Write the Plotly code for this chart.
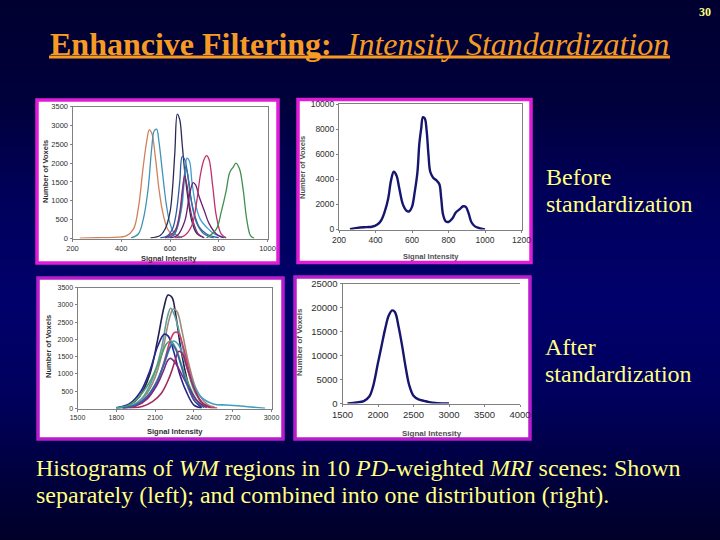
#!/usr/bin/env python3
# coding=utf-8

import plotly.graph_objects as go

W, H = 720, 540

# --- top left: separate histograms before standardization
before_names = ["orange", "teal", "black", "blue", "cyan", "steel", "wine", "purple", "pink", "green"]
before_x = [
	[230, 300, 370, 420, 450, 470, 490, 505, 515, 525, 540, 555, 570, 590, 610, 640],
	[440, 470, 490, 510, 525, 535, 545, 555, 570, 585, 600, 620, 650],
	[520, 560, 580, 600, 610, 620, 630, 640, 650, 660, 675, 690, 710, 740],
	[560, 590, 610, 625, 640, 650, 660, 670, 685, 700, 720, 750, 800],
	[580, 610, 630, 650, 660, 670, 680, 690, 705, 725, 750, 780, 830],
	[590, 620, 640, 655, 665, 675, 690, 710, 740, 780],
	[580, 620, 640, 650, 660, 670, 680, 695, 715, 740],
	[600, 630, 660, 680, 695, 705, 720, 740, 760, 790, 820],
	[620, 660, 690, 710, 725, 740, 750, 760, 775, 790, 810, 830],
	[750, 790, 810, 830, 845, 860, 870, 885, 900, 915, 930, 945],
]
before_y = [
	[10, 20, 30, 70, 250, 800, 1900, 2600, 2880, 2800, 2150, 1300, 700, 250, 90, 10],
	[20, 120, 500, 1300, 2400, 2850, 2900, 2550, 1700, 900, 400, 120, 20],
	[15, 80, 250, 700, 1300, 2300, 3300, 3150, 2500, 1800, 1000, 450, 130, 20],
	[15, 70, 250, 650, 1500, 2170, 2100, 1800, 1100, 650, 300, 120, 20],
	[15, 80, 300, 900, 1700, 2130, 2050, 1500, 900, 500, 300, 130, 20],
	[10, 130, 600, 1400, 1900, 1600, 900, 400, 120, 15],
	[10, 200, 700, 1250, 1650, 1400, 900, 450, 130, 15],
	[15, 80, 450, 1150, 1480, 1420, 1100, 750, 400, 120, 15],
	[15, 80, 350, 1000, 1700, 2100, 2200, 2100, 1400, 600, 120, 15],
	[15, 250, 700, 1250, 1750, 1900, 2000, 1850, 1300, 500, 80, 5],
]
before_colors = ["#d0805a", "#3f93b5", "#2a2a55", "#2f5a9e", "#3f9fd0", "#3a6f9f", "#8a2a70", "#6a1f70", "#c0306f", "#3f8f4f"]

# --- top right: combined histogram before standardization
combined_before_x = [260, 300, 350, 380, 410, 430, 450, 470, 485, 500, 515, 530, 550, 570, 585, 600, 615, 630, 640, 650, 660, 670, 680, 690, 700, 715, 735, 750, 760, 770, 785, 800, 820, 840, 860, 880, 895, 910, 925, 945, 975, 1000]
combined_before_y = [20, 130, 190, 220, 400, 700, 1400, 2500, 3900, 4600, 4300, 3300, 2000, 1500, 1450, 1800, 3000, 4600, 6800, 8000, 8950, 8850, 7900, 6000, 4600, 4150, 3900, 3600, 2500, 1200, 650, 600, 850, 1350, 1600, 1850, 1800, 1300, 600, 250, 80, 0]

# --- bottom left: separate histograms after standardization
after_x = [
	[1800, 1900, 1980, 2060, 2120, 2170, 2200, 2230, 2260, 2300, 2350, 2400, 2460],
	[1800, 1920, 2020, 2100, 2160, 2210, 2240, 2270, 2310, 2360, 2420, 2500, 2560],
	[1800, 1920, 2010, 2090, 2150, 2195, 2220, 2250, 2300, 2350, 2410, 2480, 2540],
	[1800, 1900, 1990, 2060, 2120, 2170, 2200, 2240, 2290, 2340, 2400, 2460],
	[1850, 1950, 2040, 2110, 2170, 2220, 2250, 2280, 2320, 2370, 2430, 2500, 2580],
	[1800, 1900, 1990, 2070, 2140, 2190, 2220, 2260, 2310, 2360, 2420, 2490],
	[1800, 1920, 2020, 2100, 2170, 2220, 2240, 2280, 2330, 2390, 2450, 2550, 2650, 2800, 2950],
	[1850, 1950, 2040, 2110, 2160, 2200, 2220, 2260, 2310, 2370, 2430, 2500],
	[1900, 2000, 2080, 2150, 2210, 2260, 2280, 2310, 2350, 2400, 2460, 2530],
	[1850, 1950, 2040, 2110, 2170, 2210, 2230, 2260, 2300, 2350, 2410, 2480],
]
after_y = [
	[20, 100, 350, 1000, 2000, 2950, 3280, 3220, 2700, 1700, 800, 250, 30],
	[15, 90, 350, 900, 1700, 2600, 2880, 2800, 2200, 1300, 550, 130, 40],
	[15, 90, 350, 950, 1750, 2650, 2900, 2700, 2000, 1150, 450, 110, 30],
	[20, 130, 500, 1100, 1800, 2150, 2100, 1700, 1000, 500, 100, 15],
	[15, 70, 280, 700, 1350, 2000, 2200, 2180, 1750, 1000, 350, 60, 15],
	[15, 100, 400, 850, 1450, 1880, 1950, 1750, 1200, 700, 250, 50],
	[10, 70, 280, 700, 1300, 1800, 1950, 1850, 1350, 750, 350, 130, 100, 60, 5],
	[10, 80, 300, 650, 1050, 1400, 1450, 1300, 950, 550, 200, 30],
	[15, 60, 200, 450, 900, 1450, 1650, 1600, 1150, 600, 180, 30],
	[15, 100, 350, 750, 1300, 1750, 1850, 1700, 1250, 650, 200, 30],
]
after_colors = ["#20204f", "#a08a78", "#5f9f9f", "#26268a", "#d03a6a", "#4f9f6f", "#3f9fc0", "#7a2a80", "#a02a60", "#3a5fa5"]

# --- bottom right: combined histogram after standardization
combined_after_x = [1570, 1650, 1700, 1800, 1880, 1930, 2000, 2050, 2100, 2150, 2200, 2240, 2290, 2340, 2390, 2440, 2500, 2570, 2650, 2720, 2800, 2900, 3000]
combined_after_y = [20, 100, 200, 500, 1500, 3500, 8500, 12000, 15500, 18300, 19400, 19000, 16000, 12000, 7500, 3800, 1600, 850, 550, 300, 100, 10, 0]

# slide background, dark at the edges and brighter lower down the middle
bg_rows = [0, 100, 200, 300, 400, 480, 540]
bg_blue = [48, 60, 92, 108, 92, 60, 40]

ORANGE = "#f59a23"
YELLOW = "#ffff80"
SERIF = "Liberation Serif"
SANS = "Liberation Sans"


def px(x):
	return x / W


def py(y):
	return 1 - y / H


def blue_at(y):
	for i in range(len(bg_rows) - 1):
		if y <= bg_rows[i + 1]:
			t = (y - bg_rows[i]) / (bg_rows[i + 1] - bg_rows[i])
			return int(bg_blue[i] + t * (bg_blue[i + 1] - bg_blue[i]))
	return bg_blue[-1]


fig = go.Figure()
shapes = []
annotations = []

for y in range(0, H, 3):
	shapes.append(dict(type="rect", xref="paper", yref="paper", x0=0, x1=1, y0=py(y + 3), y1=py(y),
		fillcolor="rgb(0,0,%d)" % blue_at(y), line_width=0, layer="below"))


def text(x, y, s, size, color, family=SERIF, anchor="left", angle=0):
	annotations.append(dict(xref="paper", yref="paper", x=px(x), y=py(y), text=s, showarrow=False,
		xanchor=anchor, yanchor="middle", align="left", textangle=angle,
		font=dict(family=family, size=size, color=color)))


# frame and plot box per panel, in pixels of the slide
panels = [
	dict(frame=(37, 278, 100, 263), box=(72.5, 267.5, 106.5, 238.5), xr=[200, 1000], xd=200, yr=[0, 3500], yd=500, size=7.5, border="#e01cd8", right=True),
	dict(frame=(298, 531, 99.5, 262.5), box=(339, 521.5, 104, 229.5), xr=[200, 1200], xd=200, yr=[0, 10000], yd=2000, size=8.5, border="#e01cd8", right=True),
	dict(frame=(38, 283, 278, 439), box=(77.5, 271.5, 287.5, 408.5), xr=[1500, 3000], xd=300, yr=[0, 3500], yd=500, size=7, border="#b81ccc", right=True),
	dict(frame=(295, 530, 277, 439), box=(342.5, 520, 283.5, 403.5), xr=[1500, 4000], xd=500, yr=[0, 25000], yd=5000, size=9.5, border="#b81ccc", right=False),
]

layout_axes = {}
for n, p in enumerate(panels, start=1):
	x0, x1, y0, y1 = p["frame"]
	shapes.append(dict(type="rect", xref="paper", yref="paper", x0=px(x0), x1=px(x1), y0=py(y1), y1=py(y0),
		fillcolor="white", line=dict(color=p["border"], width=3.5), layer="below"))
	bx0, bx1, by0, by1 = p["box"]
	suffix = "" if n == 1 else str(n)
	axis_style = dict(showgrid=False, zeroline=False, showline=True, linecolor="#808080", linewidth=1,
		ticks="outside", ticklen=2, tickcolor="#808080", tickformat="d", automargin=False,
		tickfont=dict(family=SANS, size=p["size"], color="#2e2e2e"))
	layout_axes["xaxis" + suffix] = dict(domain=[px(bx0), px(bx1)], range=p["xr"], dtick=p["xd"], tick0=p["xr"][0], anchor="y" + suffix, mirror=True, **axis_style)
	layout_axes["yaxis" + suffix] = dict(domain=[py(by1), py(by0)], range=p["yr"], dtick=p["yd"], tick0=0, anchor="x" + suffix, mirror=p["right"], **axis_style)

for xs, ys, c, name in zip(before_x, before_y, before_colors, before_names):
	fig.add_trace(go.Scatter(x=xs, y=ys, mode="lines", name=name, line=dict(color=c, width=1.3, shape="spline"), xaxis="x", yaxis="y"))
fig.add_trace(go.Scatter(x=combined_before_x, y=combined_before_y, mode="lines", line=dict(color="#16166e", width=2.4, shape="spline"), xaxis="x2", yaxis="y2"))
for xs, ys, c in zip(after_x, after_y, after_colors):
	fig.add_trace(go.Scatter(x=xs, y=ys, mode="lines", line=dict(color=c, width=1.6, shape="spline"), xaxis="x3", yaxis="y3"))
fig.add_trace(go.Scatter(x=combined_after_x, y=combined_after_y, mode="lines", line=dict(color="#16166e", width=2.4, shape="spline"), xaxis="x4", yaxis="y4"))

# axis titles of the pasted pictures
text(169, 258, "<b>Signal Intensity</b>", 7.5, "#303030", SANS, "center")
text(45, 172, "<b>Number of Voxels</b>", 7.5, "#303030", SANS, "center", -90)
text(431, 257, "<b>Signal Intensity</b>", 7.5, "#505050", SANS, "center")
text(302, 168, "<b>Number of Voxels</b>", 7.5, "#505050", SANS, "center", -90)
text(175, 431, "<b>Signal Intensity</b>", 7.5, "#303030", SANS, "center")
text(48, 347, "<b>Number of Voxels</b>", 7.5, "#303030", SANS, "center", -90)
text(432, 433, "<b>Signal Intensity</b>", 8, "#505050", SANS, "center")
text(299, 342, "<b>Number of Voxels</b>", 8, "#505050", SANS, "center", -90)

# slide texts, left anchored ones carry 2px of annotation padding
text(697, 12, "<b>30</b>", 12, YELLOW)
text(48, 44, "<b>Enhancive Filtering:</b>  <i>Intensity Standardization</i>", 32, ORANGE)
shapes.append(dict(type="line", xref="paper", yref="paper", x0=px(49), x1=px(670), y0=py(57), y1=py(57), line=dict(color=ORANGE, width=3), layer="above"))
text(544, 177, "Before", 24, YELLOW)
text(544, 204, "standardization", 24, YELLOW)
text(543, 347, "After", 24, YELLOW)
text(543, 374, "standardization", 24, YELLOW)
text(34, 468, "Histograms of <i>WM</i> regions in 10 <i>PD</i>-weighted <i>MRI</i> scenes: Shown", 24, YELLOW)
text(34, 495, "separately (left); and combined into one distribution (right).", 24, YELLOW)

fig.update_layout(width=W, height=H, margin=dict(l=0, r=0, t=0, b=0, pad=0, autoexpand=False), autosize=False, showlegend=False,
	paper_bgcolor="#000050", plot_bgcolor="rgba(0,0,0,0)", shapes=shapes, annotations=annotations, **layout_axes)

# the default page margin would push the slide off the window
fig.write_html("out.html", config=dict(displayModeBar=False),
	post_script="document.body.style.margin='0';document.body.style.overflow='hidden';")
